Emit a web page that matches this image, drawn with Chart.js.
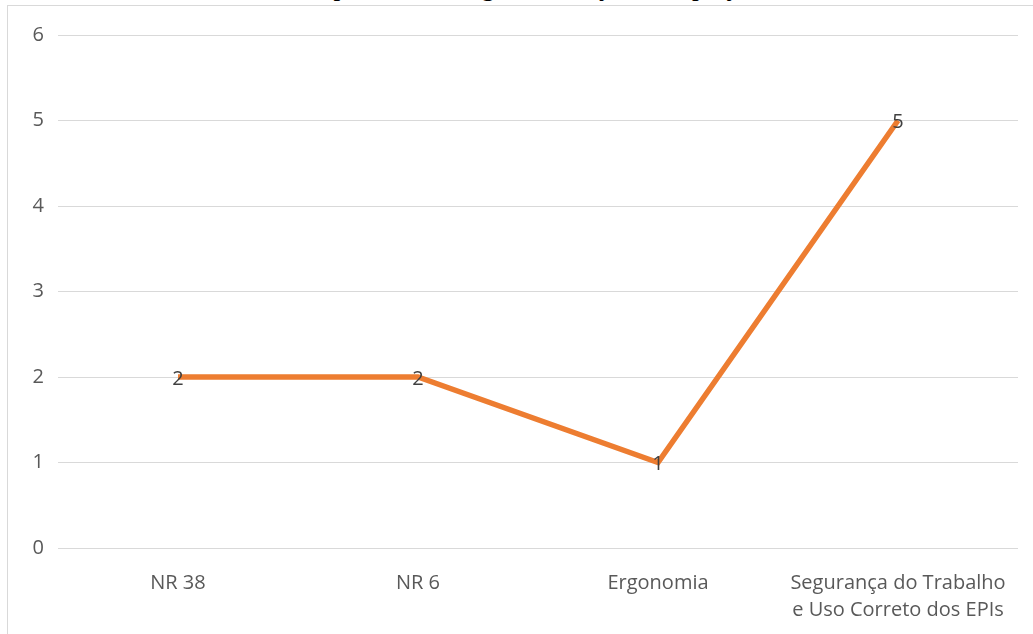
<!DOCTYPE html>
<html>
<head>
<meta charset="utf-8">
<script src="https://cdn.jsdelivr.net/npm/chart.js@4"></script>
<style>
  html, body { margin: 0; padding: 0; background: #fff; overflow: hidden; }
  #wrap { position: relative; width: 1033px; height: 634px; }
  #frame { position: absolute; left: 7px; top: 5px; width: 1040px; height: 640px;
           border-left: 1px solid #d9d9d9; border-top: 1px solid #d9d9d9; }
  #titulo { position: absolute; left: 0; width: 1054px; top: -27px; line-height: 27px;
            text-align: center; font-family: "Liberation Serif", serif; font-size: 27px; color: #000; }
  canvas { position: absolute; left: 0; top: 0; }
</style>
</head>
<body>
<div id="wrap">
  <div id="frame"></div>
  <div id="titulo">Graph 3 - Training offered by the employer</div>
  <canvas id="lineChart" width="1033" height="634"></canvas>
</div>
<script>
// ======================================
// DADOS
// ======================================

const categorias = [
    "NR 38",
    "NR 6",
    "Ergonomia",
    ["Segurança do Trabalho", "e Uso Correto dos EPIs"]
];

const valores = [2, 2, 1, 5];

const eixoY = { min: 0, max: 6, passo: 1 };

const fonte = "'Open Sans', sans-serif";


// ======================================
// RÓTULOS DOS PONTOS
// ======================================

const rotulosPontos = {
    id: "rotulosPontos",
    afterDatasetsDraw(chart) {
        const ctx = chart.ctx;
        const meta = chart.getDatasetMeta(0);
        ctx.save();
        ctx.font = "20px " + fonte;
        ctx.fillStyle = "#404040";
        ctx.textAlign = "center";
        ctx.textBaseline = "middle";
        meta.data.forEach((ponto, i) => {
            ctx.fillText(String(chart.data.datasets[0].data[i]), ponto.x, ponto.y + 2);
        });
        ctx.restore();
    }
};


// ======================================
// GRÁFICO
// ======================================

new Chart(document.getElementById("lineChart"), {

    type: "line",

    data: {
        labels: categorias,
        datasets: [{
            data: valores,
            borderColor: "#ed7d31",
            borderWidth: 5.5,
            pointRadius: 0,
            pointHoverRadius: 0,
            tension: 0,
            fill: false
        }]
    },

    options: {
        responsive: false,
        animation: false,
        layout: { padding: { top: 35, right: 15, left: 0, bottom: 0 } },
        plugins: {
            legend: { display: false },
            tooltip: { enabled: false }
        },
        scales: {
            x: {
                offset: true,
                grid: { display: false, drawTicks: false },
                border: { display: false },
                ticks: {
                    color: "#595959",
                    font: { family: fonte, size: 20, lineHeight: 1.35 },
                    padding: 22,
                    maxRotation: 0,
                    autoSkip: false
                },
                afterFit(scale) { scale.height = 86; }
            },
            y: {
                min: eixoY.min,
                max: eixoY.max,
                grid: { color: "#d9d9d9", lineWidth: 1, drawTicks: false },
                border: { display: false },
                ticks: {
                    stepSize: eixoY.passo,
                    color: "#595959",
                    font: { family: fonte, size: 20 },
                    padding: 14
                },
                afterFit(scale) { scale.width = 58; }
            }
        }
    },

    plugins: [rotulosPontos]

});
</script>
</body>
</html>
